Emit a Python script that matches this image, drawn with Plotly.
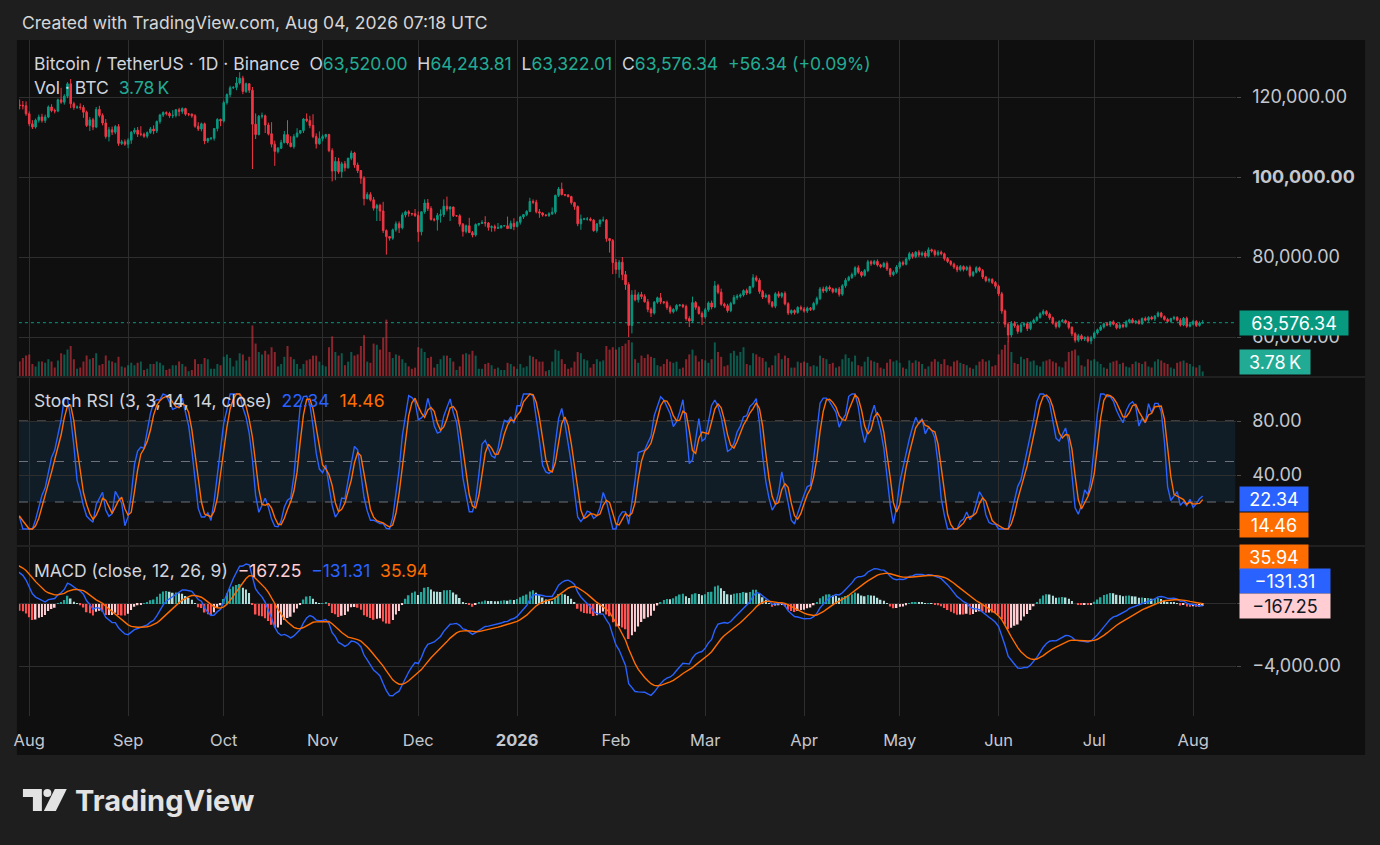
import numpy as np
import pandas as pd
import plotly.graph_objects as go

W, H = 1380, 845
FONT = "Inter, Roboto, 'Noto Sans', sans-serif"

UP = '#089981'
DOWN = '#f23645'
BLUE = '#2962ff'
ORANGE = '#ff6d00'
GREEN_TXT = '#22ab94'
TXT = '#d1d4dc'
AXIS_TXT = '#c4c7ce'
GRID = '#2e2e2e'
PANE = '#0f0f0f'
PAGE = '#1e1e1e'

# BTC/USDT daily (Binance), prices in thousands of USDT
# closes Jun 12 - Jul 27 2025, off screen, only used to warm up RSI / MACD
warmup_close = [
    105.7, 106.1, 105.4, 105.6, 107.0, 104.6, 104.9, 104.6, 103.3, 102.1, 100.9, 105.4, 106.0, 107.3, 106.9,
    107.1, 107.3, 108.4, 107.1,
    105.7, 108.8, 109.6, 108.0, 108.2, 109.2, 108.3, 108.9, 111.3, 115.9, 117.5, 117.4, 119.1, 119.8, 117.7,
    118.6, 119.2, 117.9, 117.9, 117.3, 117.4, 119.9, 118.8, 118.3, 117.6, 117.9, 119.4,
]

start_day = '2025-07-28'
close_k = [
    118.0, 117.9, 117.8, 115.8,
    113.3, 112.5, 114.2, 115.0, 114.1, 115.0, 117.5, 116.6, 116.5, 119.3, 118.7, 120.2, 123.3, 118.3, 117.4, 117.5,
    117.4, 116.2, 112.9, 114.3, 112.5, 116.9, 115.4, 113.5, 110.1, 111.8, 111.2, 112.6, 108.4, 108.8, 108.2,
    109.2, 111.2, 111.7, 110.7, 110.7, 110.2, 111.1, 112.0, 111.5, 113.9, 115.5, 116.1, 115.9, 115.3, 115.4,
    116.8, 116.4, 117.1, 115.7, 115.7, 115.3, 112.7, 112.0, 113.3, 109.0, 109.6, 109.7, 112.1, 114.4, 114.0,
    118.6, 120.6, 122.3, 122.4, 123.5, 124.7, 121.4, 123.3, 121.7, 113.2, 110.6, 115.2, 115.3, 113.0, 110.8,
    108.2, 106.4, 107.2, 108.6, 110.6, 108.5, 107.6, 110.1, 111.0, 111.6, 114.5, 114.1, 112.9, 110.1, 108.3, 109.6,
    110.1, 110.6, 106.6, 101.5, 103.9, 101.3, 103.3, 102.3, 104.7, 106.0, 103.0, 101.6, 99.7, 94.6, 95.6,
    94.3, 92.2, 92.9, 91.5, 86.6, 85.1, 84.7, 86.8, 88.3, 87.3, 90.5, 91.3, 90.9, 90.8, 90.4,
    86.3, 91.3, 93.5, 92.1, 89.4, 89.3, 90.4, 90.6, 92.7, 92.0, 92.5, 90.3, 90.3, 88.2, 86.4,
    87.8, 86.1, 85.5, 88.1, 88.4, 88.6, 88.5, 87.4, 87.6, 87.2, 87.3, 87.8, 87.8, 87.1, 88.4, 87.6,
    88.7, 90.0, 90.6, 91.4, 93.9, 93.7, 91.3, 91.0, 90.5, 90.4, 90.8, 91.2, 95.4, 97.0, 95.6,
    95.5, 95.1, 93.6, 92.6, 88.3, 89.5, 89.5, 89.5, 89.2, 86.6, 88.3, 89.2, 89.2, 84.6, 84.1, 78.6,
    76.9, 78.7, 75.6, 73.1, 62.9, 70.5, 69.3, 70.6, 70.1, 68.8, 66.9, 66.0, 68.7, 69.8,
    68.8, 68.6, 67.4, 66.3, 66.9, 67.9, 68.0, 67.6, 64.6, 64.0, 68.6, 67.4, 65.9, 65.0,
    66.8, 68.5, 67.5, 72.8, 71.2, 68.2, 67.8, 66.6, 68.4, 69.9, 70.2, 70.5, 71.6, 71.0, 72.6,
    74.8, 74.2, 71.4, 70.0, 70.4, 68.7, 67.7, 70.8, 70.2, 70.9, 68.3, 66.0, 66.6, 66.1, 67.4, 67.0,
    66.5, 67.2, 66.9, 68.4, 69.6, 72.0, 71.5, 72.4, 72.0, 71.3, 72.0, 70.7, 72.8, 74.2, 74.9,
    75.6, 77.3, 76.2, 75.4, 76.6, 78.8, 78.3, 78.9, 78.0, 77.6, 78.4, 77.0, 75.6, 76.2, 77.5,
    78.6, 78.2, 79.5, 80.8, 80.1, 81.2, 80.5, 81.0, 80.2, 81.8, 81.5, 80.6, 81.2, 80.8, 79.6,
    78.9, 78.2, 77.5, 76.8, 77.6, 76.9, 77.4, 75.4, 76.2, 77.3, 76.6, 75.0, 74.1, 74.4, 73.6, 72.7,
    70.8, 66.5, 63.2, 60.5, 63.4, 62.8, 61.4, 63.0, 63.3, 62.1, 63.6, 64.2, 64.9, 65.8, 66.4,
    65.7, 64.8, 63.5, 62.6, 63.9, 64.1, 63.6, 62.4, 60.8, 59.2, 60.3, 59.5, 59.9, 59.0, 59.8,
    61.0, 61.8, 62.5, 63.3, 63.0, 63.8, 63.2, 62.3, 63.0, 62.6, 63.8, 64.3, 63.6, 64.0, 63.4,
    64.6, 64.2, 64.9, 64.5, 65.2, 66.0, 65.1, 64.4, 63.9, 64.6, 64.9, 64.2, 63.0, 64.7, 62.7, 63.2,
    63.9, 62.9, 63.52, 63.57634,
]

# wick above max(open, close) and below min(open, close), thousands
wick_up_k = [
    1.4, 1.4, 1.1, 1.1,
    0.6, 0.9, 0.4, 0.6, 0.8, 0.6, 0.4, 0.7, 0.5, 0.3, 3.0, 0.5, 0.4, 1.2, 0.5, 0.4,
    0.9, 0.6, 0.4, 0.7, 0.5, 0.6, 0.9, 0.5, 1.0, 0.7, 0.8, 0.4, 0.6, 0.5, 0.6,
    0.5, 0.3, 0.6, 0.8, 2.0, 0.4, 0.3, 0.5, 0.9, 0.2, 0.3, 0.3, 0.3, 0.4, 1.3,
    0.2, 0.5, 0.3, 0.2, 0.3, 0.2, 0.4, 1.0, 0.3, 0.3, 0.2, 0.3, 0.1, 0.3, 0.2,
    0.5, 0.3, 0.5, 0.3, 1.5, 1.5, 0.6, 0.3, 0.2, 0.8, 2.7, 0.3, 0.8, 0.3, 0.6,
    2.9, 0.9, 0.3, 0.7, 0.9, 3.6, 1.7, 0.6, 1.2, 0.1, 0.2, 1.4, 1.2, 2.8, 0.8, 1.8,
    0.5, 0.2, 0.2, 0.6, 1.1, 0.9, 0.5, 0.7, 0.1, 0.6, 0.3, 0.6, 0.1, 0.5, 0.6,
    0.6, 0.7, 0.4, 0.4, 2.3, 0.3, 0.1, 0.3, 0.6, 0.6, 0.6, 0.3, 0.4, 0.1, 1.2,
    1.0, 0.1, 0.9, 1.0, 0.6, 0.4, 0.6, 1.3, 1.7, 2.4, 0.2, 0.1, 0.1, 0.4, 0.3,
    0.3, 2.0, 0.4, 0.3, 0.1, 0.6, 1.6, 0.2, 0.3, 0.5, 1.2, 0.2, 0.2, 2.3, 0.7, 1.3,
    0.3, 0.3, 0.1, 0.3, 0.9, 0.5, 0.6, 0.7, 0.2, 0.2, 0.4, 1.2, 0.2, 0.5, 1.6,
    0.1, 0.2, 0.2, 0.2, 0.3, 1.1, 0.3, 0.5, 0.4, 0.3, 0.1, 0.2, 0.9, 0.3, 0.1, 0.4,
    0.9, 0.6, 1.3, 0.9, 0.6, 1.2, 1.3, 0.6, 0.7, 0.6, 0.7, 0.5, 0.3, 0.3,
    1.2, 0.2, 0.5, 0.5, 0.3, 0.3, 0.2, 0.3, 0.5, 0.6, 1.5, 0.4, 0.4, 0.5,
    0.5, 0.4, 0.6, 1.2, 0.5, 0.9, 0.4, 0.5, 0.4, 0.6, 0.5, 0.4, 0.3, 0.5, 0.2,
    0.9, 0.6, 0.5, 0.4, 0.5, 0.3, 0.3, 0.4, 0.6, 0.3, 0.5, 0.4, 0.3, 0.3, 0.3, 0.5,
    0.5, 0.4, 0.3, 0.4, 0.5, 0.5, 0.6, 0.4, 0.5, 0.3, 0.3, 0.5, 0.4, 0.5, 0.4,
    0.5, 0.4, 0.6, 0.3, 0.4, 0.5, 0.4, 0.4, 0.5, 0.3, 0.4, 0.5, 0.3, 0.4, 0.5,
    0.4, 0.5, 0.4, 0.5, 0.4, 0.3, 0.5, 0.4, 0.5, 0.6, 0.3, 0.4, 0.5, 0.4, 0.3,
    0.4, 0.3, 0.4, 0.5, 0.4, 0.3, 0.4, 0.5, 0.3, 0.4, 0.3, 0.4, 0.3, 0.4, 0.3, 0.4,
    0.4, 0.5, 0.4, 0.5, 0.6, 0.5, 0.4, 0.5, 0.4, 0.5, 0.3, 0.4, 0.3, 0.4, 0.5,
    0.3, 0.4, 0.3, 0.4, 0.3, 0.4, 0.3, 0.4, 0.3, 0.4, 0.5, 0.4, 0.3, 0.4, 0.5,
    0.4, 0.3, 0.5, 0.3, 0.4, 0.2, 0.4, 0.3, 0.5, 0.3, 0.4, 0.3, 0.4, 0.2, 0.4,
    0.3, 0.5, 0.3, 0.4, 0.3, 0.4, 0.3, 0.3, 0.4, 0.2, 0.4, 0.3, 0.5, 0.3, 0.4, 0.3,
    0.4, 0.3, 0.4, 0.66747,
]
wick_dn_k = [
    0.6, 1.0, 0.9, 0.5,
    0.6, 0.5, 0.4, 0.6, 0.5, 0.6, 0.3, 0.4, 0.6, 0.3, 0.4, 0.6, 0.5, 1.1, 0.6, 0.4,
    0.6, 1.4, 0.4, 1.4, 0.8, 0.3, 0.5, 0.6, 0.5, 1.2, 0.7, 0.5, 0.6, 0.4, 0.4,
    1.0, 0.9, 0.5, 0.7, 0.5, 0.4, 0.5, 0.3, 0.8, 0.5, 0.6, 0.5, 0.5, 0.5, 0.6,
    0.5, 1.2, 0.6, 0.4, 0.5, 0.5, 0.4, 0.5, 0.6, 0.8, 0.5, 0.4, 0.6, 0.7, 1.3,
    0.4, 0.5, 0.6, 0.3, 0.7, 0.4, 0.7, 0.4, 0.7, 11.2, 1.1, 0.2, 0.6, 2.0, 0.4,
    0.8, 3.6, 0.5, 0.2, 0.2, 0.4, 0.2, 0.5, 0.3, 0.3, 0.6, 0.4, 0.7, 0.4, 1.2, 0.2,
    0.7, 0.5, 0.4, 2.6, 2.3, 0.5, 1.5, 0.9, 0.2, 0.5, 0.7, 0.6, 1.4, 1.7, 0.2,
    0.4, 0.6, 3.2, 2.5, 0.6, 4.5, 0.6, 0.4, 0.5, 1.3, 0.4, 0.6, 0.8, 0.5, 0.4,
    2.5, 0.9, 0.5, 0.6, 0.3, 0.4, 2.7, 1.8, 0.6, 0.6, 3.0, 0.3, 0.2, 0.6, 1.3,
    0.5, 0.1, 0.6, 0.4, 0.4, 0.1, 0.9, 0.8, 1.1, 0.8, 0.1, 0.2, 0.1, 0.1, 0.1, 0.9,
    0.2, 0.6, 0.5, 0.4, 0.2, 0.5, 0.4, 1.2, 0.4, 0.3, 0.4, 0.3, 0.5, 0.4, 0.2,
    0.3, 0.2, 0.5, 0.8, 0.6, 1.5, 0.3, 0.4, 0.3, 0.3, 0.5, 0.8, 0.4, 0.8, 3.0, 2.9,
    1.1, 2.1, 1.4, 1.3, 2.9, 2.0, 0.4, 0.7, 0.6, 0.2, 0.7, 1.0, 0.4, 0.4,
    0.6, 0.4, 0.6, 0.5, 0.4, 0.5, 0.3, 0.4, 0.5, 1.5, 0.5, 0.6, 0.3, 2.0,
    0.4, 0.5, 0.6, 0.3, 0.5, 0.4, 0.5, 0.5, 0.4, 0.3, 0.6, 0.5, 0.4, 0.5, 0.3,
    0.4, 0.4, 0.6, 0.5, 0.3, 0.6, 0.4, 0.5, 0.4, 0.5, 0.4, 0.5, 0.4, 0.5, 0.3, 0.4,
    0.4, 0.5, 0.4, 0.3, 0.5, 0.4, 0.5, 0.4, 0.5, 0.4, 0.3, 0.6, 0.4, 0.5, 0.3,
    0.4, 0.5, 0.4, 0.5, 0.3, 0.4, 0.5, 0.3, 0.4, 0.4, 0.3, 0.5, 0.6, 0.4, 0.4,
    0.5, 0.4, 0.3, 0.4, 0.5, 0.4, 0.5, 0.4, 0.5, 0.3, 0.4, 0.5, 0.4, 0.4, 0.5,
    0.4, 0.4, 0.5, 0.6, 0.4, 0.5, 0.4, 0.5, 0.4, 0.3, 0.4, 0.5, 0.4, 0.5, 0.4, 0.6,
    0.6, 0.7, 0.8, 1.7, 0.6, 0.5, 0.6, 0.4, 0.5, 0.6, 0.4, 0.3, 0.4, 0.3, 0.4,
    0.4, 0.5, 0.4, 0.5, 0.4, 0.3, 0.4, 0.5, 0.6, 0.6, 0.5, 0.4, 0.5, 0.4, 0.8,
    0.3, 0.4, 0.3, 0.4, 0.3, 0.5, 0.3, 0.4, 0.3, 0.4, 0.3, 0.4, 0.2, 0.4, 0.3,
    0.4, 0.3, 0.4, 0.3, 0.5, 0.3, 0.4, 0.3, 0.4, 0.3, 0.4, 0.3, 0.4, 0.3, 0.4, 0.3,
    0.3, 0.4, 0.3, 0.19799,
]

# daily volume, thousands of BTC
volume_k = [
    14, 12, 15, 17,
    18, 10, 8, 12, 12, 11, 14, 12, 7, 13, 19, 18, 22, 25, 14, 6, 7, 12, 17, 14, 15, 19, 9, 10, 17, 13, 12, 11, 16, 8, 7,
    9, 11, 9, 11, 12, 5, 6, 10, 10, 12, 11, 9, 5, 6, 9, 9, 12, 10, 8, 4, 5, 14, 10, 10, 15, 14, 6, 6, 10, 9,
    16, 18, 15, 8, 13, 19, 18, 13, 16, 42, 27, 20, 18, 21, 18, 24, 20, 8, 10, 16, 25, 16, 14, 10, 6, 10, 13, 14, 17, 17, 12,
    9, 8, 24, 33, 20, 17, 19, 9, 12, 20, 17, 18, 25, 34, 12, 11, 27, 26, 22, 32, 47, 20, 15, 18, 17, 14, 11, 8, 6, 7,
    24, 23, 20, 15, 16, 7, 10, 14, 17, 17, 15, 12, 5, 8, 18, 19, 18, 21, 17, 6, 6, 10, 11, 9, 6, 7, 5, 5, 11, 10, 8,
    6, 10, 7, 8, 17, 16, 14, 12, 12, 4, 5, 12, 22, 21, 14, 10, 6, 7, 12, 20, 19, 14, 13, 7, 10, 14, 12, 13, 25, 22, 24,
    22, 24, 25, 27, 30, 28, 14, 11, 17, 15, 18, 16, 15, 9, 8, 10, 14, 12, 11, 12, 6, 7, 14, 18, 22, 17, 12, 14,
    13, 11, 14, 28, 20, 16, 8, 9, 19, 21, 17, 20, 24, 10, 9, 19, 18, 16, 15, 12, 7, 9, 17, 19, 14, 17, 15, 7, 7, 12, 11,
    12, 11, 8, 9, 8, 17, 15, 14, 10, 11, 7, 8, 14, 18, 15, 12, 17, 9, 8, 12, 16, 13, 12, 11, 7, 6, 11, 14, 12, 13,
    11, 7, 6, 13, 11, 13, 12, 10, 6, 8, 12, 14, 12, 10, 14, 9, 8, 12, 13, 11, 10, 9, 7, 6, 9, 12, 14, 12, 13, 8, 9,
    18, 22, 26, 29, 20, 11, 10, 16, 14, 15, 12, 13, 9, 8, 12, 13, 14, 12, 11, 8, 7, 12, 20, 21, 22, 17, 9, 8, 14, 13,
    14, 12, 10, 7, 6, 11, 12, 13, 10, 11, 8, 7, 10, 12, 11, 10, 12, 8, 7, 12, 14, 13, 11, 10, 7, 6, 11, 12, 13, 11, 10,
    8, 7, 9, 3.78,
]

tick_days = ['2025-08-01', '2025-09-01', '2025-10-01', '2025-11-01', '2025-12-01', '2026-01-01', '2026-02-01',
             '2026-03-01', '2026-04-01', '2026-05-01', '2026-06-01', '2026-07-01', '2026-08-01']
tick_text = ['Aug', 'Sep', 'Oct', 'Nov', 'Dec', '<b>2026</b>', 'Feb', 'Mar', 'Apr', 'May', 'Jun', 'Jul', 'Aug']

price_ticks = [60000, 80000, 100000, 120000]
price_tick_text = ['60,000.00', '80,000.00', '<b>100,000.00</b>', '120,000.00']

# indicator readouts shown by the chart for the last bar
stoch_last = ['22.34', '14.46']
macd_last = ['\u2212167.25', '\u2212131.31', '35.94']
volume_last = '3.78\u2009K'

assert len(close_k) == len(wick_up_k) == len(wick_dn_k) == len(volume_k)

#### build OHLC
dates = pd.date_range(start_day, periods=len(close_k), freq='D')
close = np.array(close_k) * 1000
open_ = np.r_[warmup_close[-1], close_k[:-1]] * 1000
high = np.maximum(open_, close) + np.array(wick_up_k) * 1000
low = np.minimum(open_, close) - np.array(wick_dn_k) * 1000

#### indicators on warmup + visible closes
full = pd.Series(np.r_[warmup_close, close_k] * 1000)
nw = len(warmup_close)
delta = full.diff()
gain = delta.clip(lower=0).ewm(alpha=1 / 14, adjust=False).mean()
loss = (-delta.clip(upper=0)).ewm(alpha=1 / 14, adjust=False).mean()
rsi = 100 - 100 / (1 + gain / loss)
rsi_lo = rsi.rolling(14).min()
rsi_hi = rsi.rolling(14).max()
stoch = 100 * (rsi - rsi_lo) / (rsi_hi - rsi_lo)
k_line = stoch.rolling(3).mean()
d_line = k_line.rolling(3).mean()

macd = full.ewm(span=12, adjust=False).mean() - full.ewm(span=26, adjust=False).mean()
signal = macd.ewm(span=9, adjust=False).mean()
hist = macd - signal
hist_prev = hist.shift(1)

hist_col = []
for h, p in zip(hist.values[nw:], hist_prev.values[nw:]):
    if h >= 0:
        hist_col.append('#26a69a' if h > p else '#b2dfdb')
    else:
        hist_col.append('#ffcdd2' if h > p else '#ff5252')

vol_col = ['rgba(8,153,129,0.55)' if c >= o else 'rgba(242,54,69,0.55)' for o, c in zip(open_, close)]

DAY_MS = 86400000


def fx(px):
    return px / W


def fy(py):
    return 1 - py / H


xdom = [fx(14), fx(1235)]
x_range = ['2025-07-28 18:40', '2026-08-14 07:10']

fig = go.Figure()

fig.add_trace(go.Bar(x=dates, y=volume_k, marker=dict(color=vol_col, line=dict(width=0)),
                     width=0.62 * DAY_MS, xaxis='x', yaxis='y', hoverinfo='skip'))
fig.add_trace(go.Candlestick(x=dates, open=open_, high=high, low=low, close=close, xaxis='x', yaxis='y2',
                             increasing=dict(line=dict(color=UP, width=1), fillcolor=UP),
                             decreasing=dict(line=dict(color=DOWN, width=1), fillcolor=DOWN),
                             whiskerwidth=0))

fig.add_trace(go.Scatter(x=dates, y=k_line.values[nw:], mode='lines', line=dict(color=BLUE, width=1.4),
                         xaxis='x2', yaxis='y3'))
fig.add_trace(go.Scatter(x=dates, y=d_line.values[nw:], mode='lines', line=dict(color=ORANGE, width=1.4),
                         xaxis='x2', yaxis='y3'))

fig.add_trace(go.Bar(x=dates, y=hist.values[nw:], marker=dict(color=hist_col, line=dict(width=0)),
                     width=0.5 * DAY_MS, xaxis='x3', yaxis='y4', hoverinfo='skip'))
fig.add_trace(go.Scatter(x=dates, y=macd.values[nw:], mode='lines', line=dict(color=BLUE, width=1.4),
                         xaxis='x3', yaxis='y4'))
fig.add_trace(go.Scatter(x=dates, y=signal.values[nw:], mode='lines', line=dict(color=ORANGE, width=1.4),
                         xaxis='x3', yaxis='y4'))

xcommon = dict(domain=xdom, type='date', range=x_range, tickvals=tick_days, showgrid=True, gridcolor=GRID,
               gridwidth=1, zeroline=False, showline=False, ticks='', fixedrange=True)
ycommon = dict(side='right', showgrid=True, gridcolor=GRID, gridwidth=1, zeroline=False, showline=False,
               ticks='outside', ticklen=4, tickcolor='#4a4a4a', ticklabelstandoff=8,
               tickfont=dict(size=18, color=AXIS_TXT), fixedrange=True)

fig.update_layout(
    width=W, height=H, autosize=False,
    margin=dict(l=0, r=0, t=0, b=0),
    paper_bgcolor=PAGE, plot_bgcolor=PANE,
    showlegend=False, barmode='overlay',
    font=dict(family=FONT, color=TXT, size=14),
    xaxis=dict(**xcommon, anchor='y', showticklabels=False, rangeslider=dict(visible=False)),
    xaxis2=dict(**xcommon, anchor='y3', matches='x', showticklabels=False),
    xaxis3=dict(**xcommon, anchor='y4', matches='x', ticktext=tick_text, showticklabels=True,
                ticklabelstandoff=12, tickfont=dict(size=16.5, color=AXIS_TXT)),
    yaxis=dict(domain=[fy(376), fy(40)], range=[0, 280], visible=False, anchor='x', fixedrange=True),
    yaxis2=dict(**ycommon, overlaying='y', anchor='x', range=[50250, 134250],
                tickvals=price_ticks, ticktext=price_tick_text),
    # the 0 labels sit under the value badges in the reference, so only the gridline is kept
    yaxis3=dict(**ycommon, domain=[fy(545), fy(378)], anchor='x2', range=[-11.85, 111.85],
                tickvals=[0, 40, 80], ticktext=['', '40.00', '80.00']),
    yaxis4=dict(**ycommon, domain=[fy(716), fy(547)], anchor='x3', range=[-7226, 3677],
                tickvals=[-4000, 0], ticktext=['\u22124,000.00', '']),
)

shapes = [
    # chart canvas and pane separators
    dict(type='rect', xref='paper', yref='paper', x0=fx(12), x1=fx(1365), y0=fy(755), y1=fy(40),
         fillcolor=PANE, line=dict(width=0), layer='below'),
    dict(type='line', xref='paper', yref='paper', x0=fx(12), x1=fx(1365), y0=fy(377), y1=fy(377),
         line=dict(color='#333333', width=1), layer='below'),
    dict(type='line', xref='paper', yref='paper', x0=fx(12), x1=fx(1365), y0=fy(546), y1=fy(546),
         line=dict(color='#333333', width=1), layer='below'),
    # stoch rsi band
    dict(type='rect', xref='x2', yref='y3', x0=x_range[0], x1=x_range[1], y0=20, y1=80,
         fillcolor='rgba(33,150,243,0.1)', line=dict(width=0), layer='below'),
    # last price
    dict(type='line', xref='x', yref='y2', x0=x_range[0], x1=x_range[1], y0=close[-1], y1=close[-1],
         line=dict(color=UP, width=1, dash='dot'), layer='below'),
]
for lvl in [80, 50, 20]:
    shapes.append(dict(type='line', xref='x2', yref='y3', x0=x_range[0], x1=x_range[1], y0=lvl, y1=lvl,
                       line=dict(color='rgba(120,123,134,0.9)', width=1, dash='dash'), layer='below'))


def ppath(points):
    return 'M ' + ' L '.join(f'{fx(a):.5f},{fy(b):.5f}' for a, b in points) + ' Z'


LOGO = '#e3e3e3'
shapes.append(dict(type='path', xref='paper', yref='paper', line=dict(width=0), fillcolor=LOGO,
                   path=ppath([(18, 789), (37, 789), (37, 811), (28, 811), (28, 797), (18, 797)])))
shapes.append(dict(type='circle', xref='paper', yref='paper', line=dict(width=0), fillcolor=LOGO,
                   x0=fx(38.5), x1=fx(46.5), y0=fy(797), y1=fy(789)))
shapes.append(dict(type='path', xref='paper', yref='paper', line=dict(width=0), fillcolor=LOGO,
                   path=ppath([(50, 789), (62, 789), (51, 811), (39, 811)])))
fig.update_layout(shapes=shapes)


def note(text, px, py, size=15, color=TXT, **kw):
    return dict(text=text, x=fx(px), y=fy(py), xref='paper', yref='paper', xanchor='left', yanchor='middle',
                showarrow=False, font=dict(size=size, color=color, family=FONT), **kw)


def badge(text, py, bg, width, fg='#ffffff'):
    return note(text, 1238, py, size=18, color=fg, bgcolor=bg, borderpad=3, width=width, height=18,
                align='center')


def span(s, c):
    return f"<span style='color:{c}'>{s}</span>"


sp = '&nbsp;&nbsp;'
chg = close[-1] - close[-2]
pct = chg / close[-2] * 100
price_legend = ('Bitcoin / TetherUS · 1D · Binance' + sp
                + 'O' + span(f'{open_[-1]:,.2f}', GREEN_TXT) + sp
                + 'H' + span(f'{high[-1]:,.2f}', GREEN_TXT) + sp
                + 'L' + span(f'{low[-1]:,.2f}', GREEN_TXT) + sp
                + 'C' + span(f'{close[-1]:,.2f}', GREEN_TXT) + sp
                + span(f'{chg:+,.2f} ({pct:+.2f}%)', GREEN_TXT))
vol_legend = 'Vol · BTC' + sp + span(volume_last, GREEN_TXT)
stoch_legend = ('Stoch RSI (3, 3, 14, 14, close)' + sp + span(stoch_last[0], BLUE) + sp
                + span(stoch_last[1], ORANGE))
macd_legend = ('MACD (close, 12, 26, 9)' + sp + span(macd_last[0], '#ffcdd2') + sp
               + span(macd_last[1], BLUE) + sp + span(macd_last[2], ORANGE))

annotations = [
    note('Created with TradingView.com, Aug 04, 2026 07:18 UTC', 15, 22, size=17.5, color='#d6d6d6'),
    note(price_legend, 27, 64, size=17.5),
    note(vol_legend, 27, 88, size=17.5),
    note(stoch_legend, 27, 400, size=17.5),
    note(macd_legend, 27, 570, size=17.5),
    note('<b>TradingView</b>', 68, 800, size=29, color=LOGO),
    badge(f'{close[-1]:,.2f}', 323, UP, 102),
    badge(volume_last, 362, '#22ab94', 64),
    badge(stoch_last[0], 499, BLUE, 62),
    badge(stoch_last[1], 525, ORANGE, 62),
    badge(macd_last[2], 557, ORANGE, 62),
    badge(macd_last[1], 581, BLUE, 84),
    badge(macd_last[0], 606, '#ffcdd2', 84, fg='#131722'),
]
fig.update_layout(annotations=annotations)

fig.write_html("out.html", config={'displayModeBar': False},
               post_script="document.body.style.margin='0';")
